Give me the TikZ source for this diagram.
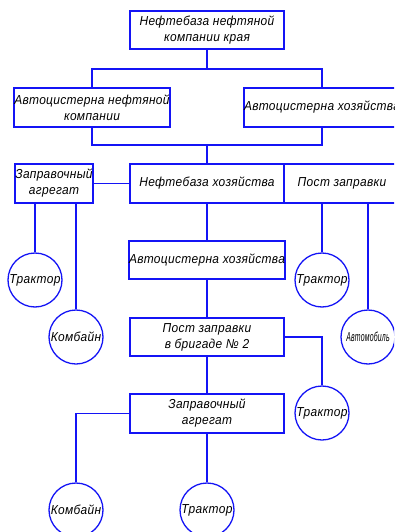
\documentclass[tikz,border=0pt]{standalone}
\usepackage{fontspec}
\setmainfont{Liberation Sans}
\newfontfamily\gost[FakeStretch=0.92,LetterSpace=2.5]{Liberation Sans Italic}
\definecolor{lineblue}{RGB}{20,20,245}
\begin{document}
\begin{tikzpicture}[x=1pt,y=-1pt,
  box/.style={draw=lineblue,line width=1.8pt,rectangle,inner sep=0pt,align=center,
    font=\gost\fontsize{13}{16}\selectfont},
  circ/.style={draw=lineblue,line width=1.3pt,circle,minimum size=54pt,inner sep=0pt,
    font=\gost\fontsize{13}{16}\selectfont},
  conn/.style={draw=lineblue,line width=1.8pt}]
\useasboundingbox (0,0) rectangle (394,532);
\clip (0,0) rectangle (394,532);
% boxes
\node[box,minimum width=154pt,minimum height=38pt] (top) at (207,30) {Нефтебаза нефтяной\\компании края};
\node[box,minimum width=152pt,minimum height=39pt] (lbox) at (92,107.5) {Автоцистерна нефтяной\\компании};
\node[box,minimum width=152pt,minimum height=39pt] (rbox) at (322,107.5) {Автоцистерна хозяйства};
\node[box,minimum width=76pt,minimum height=39pt] (zbox1) at (54,183.5) {Заправочный\\агрегат};
\node[box,minimum width=154pt,minimum height=39pt] (nbox) at (207,183.5) {Нефтебаза хозяйства};
\node[box,minimum width=116pt,minimum height=39pt] (pbox) at (342,183.5) {Пост заправки};
\node[box,minimum width=154pt,minimum height=38pt] (abox) at (207,260) {Автоцистерна хозяйства};
\node[box,minimum width=154pt,minimum height=38pt] (bbox) at (207,337) {Пост заправки\\в бригаде № 2};
\node[box,minimum width=154pt,minimum height=39pt] (zbox2) at (207,413.5) {Заправочный\\агрегат};
% circles
\node[circ] (c1) at (35,280) {Трактор};
\node[circ] (c2) at (76,337) {Комбайн};
\node[circ] (c3) at (322,280) {Трактор};
\node[circ] (c4) at (368,337) {\scalebox{0.58}[1]{Автомобиль}};
\node[circ] (c5) at (322,413) {Трактор};
\node[circ] (c6) at (76,510) {Комбайн};
\node[circ] (c7) at (207,510) {Трактор};
% junctions
\coordinate (j1) at (207,69);
\coordinate (j2) at (207,145);
% connectors
\draw[conn] (top.south) -- (j1);
\draw[conn] (lbox.north) |- (j1) -| (rbox.north);
\draw[conn] (lbox.south) |- (j2) -| (rbox.south);
\draw[conn] (j2) -- (nbox.north);
\draw[conn] (zbox1.east) -- (nbox.west);
\draw[conn] (c1.north |- zbox1.south) -- (c1.north);
\draw[conn] (c2.north |- zbox1.south) -- (c2.north);
\draw[conn] (c3.north |- pbox.south) -- (c3.north);
\draw[conn] (c4.north |- pbox.south) -- (c4.north);
\draw[conn] (nbox.south) -- (abox.north);
\draw[conn] (abox.south) -- (bbox.north);
\draw[conn] (bbox.east) -| (c5.north);
\draw[conn] (bbox.south) -- (zbox2.north);
\draw[conn] (zbox2.west) -| (c6.north);
\draw[conn] (zbox2.south) -- (c7.north);
\end{tikzpicture}
\end{document}
